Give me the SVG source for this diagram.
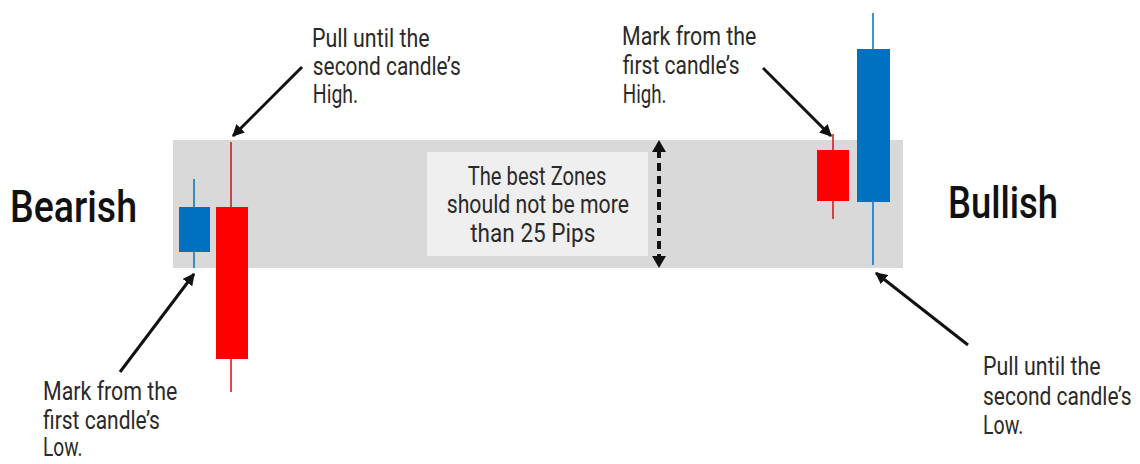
<svg xmlns="http://www.w3.org/2000/svg" width="1140" height="464" viewBox="0 0 1140 464">
<defs>
<style>
.lbl{font-family:Roboto,"Liberation Sans",sans-serif;font-size:25px;fill:#2a2a2a;font-weight:400}
.big{font-family:Roboto,"Liberation Sans",sans-serif;font-size:45px;fill:#111;font-weight:500}
.blue{fill:#0070c0}
.red{fill:#ff0000}
.wb{stroke:#0070c0;stroke-width:1.5}
.wr{stroke:#d01010;stroke-width:1.5}
.arr{stroke:#111;stroke-width:3;fill:none;marker-end:url(#ah)}
</style>
<marker id="ah" viewBox="0 0 10 10" refX="9" refY="5" markerWidth="4" markerHeight="4" orient="auto" markerUnits="strokeWidth">
<path d="M0,0 L10,5 L0,10 z" fill="#111"/>
</marker>
</defs>
<rect width="1140" height="464" fill="#ffffff"/>
<g id="zone"><rect x="173" y="140" width="730" height="128" fill="#d9d9d9"/></g>
<g id="infobox">
<rect x="427" y="152" width="221" height="104" fill="#efefef"/>
<g transform="translate(537,0) scale(0.84,1)">
<text class="lbl" x="0" y="185" text-anchor="middle" textLength="165" lengthAdjust="spacingAndGlyphs">The best Zones</text>
<text class="lbl" x="1" y="213" text-anchor="middle" textLength="217" lengthAdjust="spacingAndGlyphs">should not be more</text>
<text class="lbl" x="-5" y="242" text-anchor="middle" textLength="149" lengthAdjust="spacingAndGlyphs">than 25 Pips</text>
</g>
</g>
<g id="bear-candle1"><line class="wb" x1="194" y1="179" x2="194" y2="268"/><rect class="blue" x="179" y="207" width="31" height="45"/></g>
<g id="bear-candle2"><line class="wr" x1="231" y1="142" x2="231" y2="392"/><rect class="red" x="216" y="207" width="32" height="152"/></g>
<g id="bull-candle1"><line class="wr" x1="833" y1="134" x2="833" y2="219"/><rect class="red" x="817" y="150" width="32" height="51"/></g>
<g id="bull-candle2"><line class="wb" x1="873" y1="13" x2="873" y2="265"/><rect class="blue" x="857" y="49" width="33" height="153"/></g>
<g id="bearish"><text class="big" x="10" y="222" textLength="127" lengthAdjust="spacingAndGlyphs">Bearish</text></g>
<g id="bullish"><text class="big" x="948" y="218" textLength="110" lengthAdjust="spacingAndGlyphs">Bullish</text></g>
<g id="note-tl" transform="translate(312,0) scale(0.84,1)">
<text class="lbl" x="0" y="47" textLength="140" lengthAdjust="spacingAndGlyphs">Pull until the</text>
<text class="lbl" x="1" y="75" textLength="176" lengthAdjust="spacingAndGlyphs">second candle’s</text>
<text class="lbl" x="1" y="103" textLength="54" lengthAdjust="spacingAndGlyphs">High.</text>
</g>
<g id="note-tr" transform="translate(622,0) scale(0.84,1)">
<text class="lbl" x="0" y="45" textLength="160" lengthAdjust="spacingAndGlyphs">Mark from the</text>
<text class="lbl" x="1" y="74" textLength="139" lengthAdjust="spacingAndGlyphs">first candle’s</text>
<text class="lbl" x="1" y="103" textLength="52" lengthAdjust="spacingAndGlyphs">High.</text>
</g>
<g id="note-bl" transform="translate(43,0) scale(0.84,1)">
<text class="lbl" x="0" y="400" textLength="160" lengthAdjust="spacingAndGlyphs">Mark from the</text>
<text class="lbl" x="0" y="429" textLength="139" lengthAdjust="spacingAndGlyphs">first candle’s</text>
<text class="lbl" x="0" y="456" textLength="47" lengthAdjust="spacingAndGlyphs">Low.</text>
</g>
<g id="note-br" transform="translate(983,0) scale(0.84,1)">
<text class="lbl" x="0" y="375" textLength="140" lengthAdjust="spacingAndGlyphs">Pull until the</text>
<text class="lbl" x="0" y="405" textLength="177" lengthAdjust="spacingAndGlyphs">second candle’s</text>
<text class="lbl" x="0" y="434" textLength="48" lengthAdjust="spacingAndGlyphs">Low.</text>
</g>
<g id="connectors">
<line class="arr" x1="302" y1="67" x2="233" y2="136"/>
<line class="arr" x1="763" y1="68" x2="831" y2="136"/>
<line class="arr" x1="120" y1="372" x2="194" y2="274"/>
<line class="arr" x1="968" y1="345" x2="876" y2="273"/>
<line x1="659" y1="150" x2="659" y2="258" stroke="#111" stroke-width="4" stroke-dasharray="8,5"/>
<path d="M652,152 L659,140 L666,152 z M652,256 L659,268 L666,256 z" fill="#111"/>
</g>
</svg>
